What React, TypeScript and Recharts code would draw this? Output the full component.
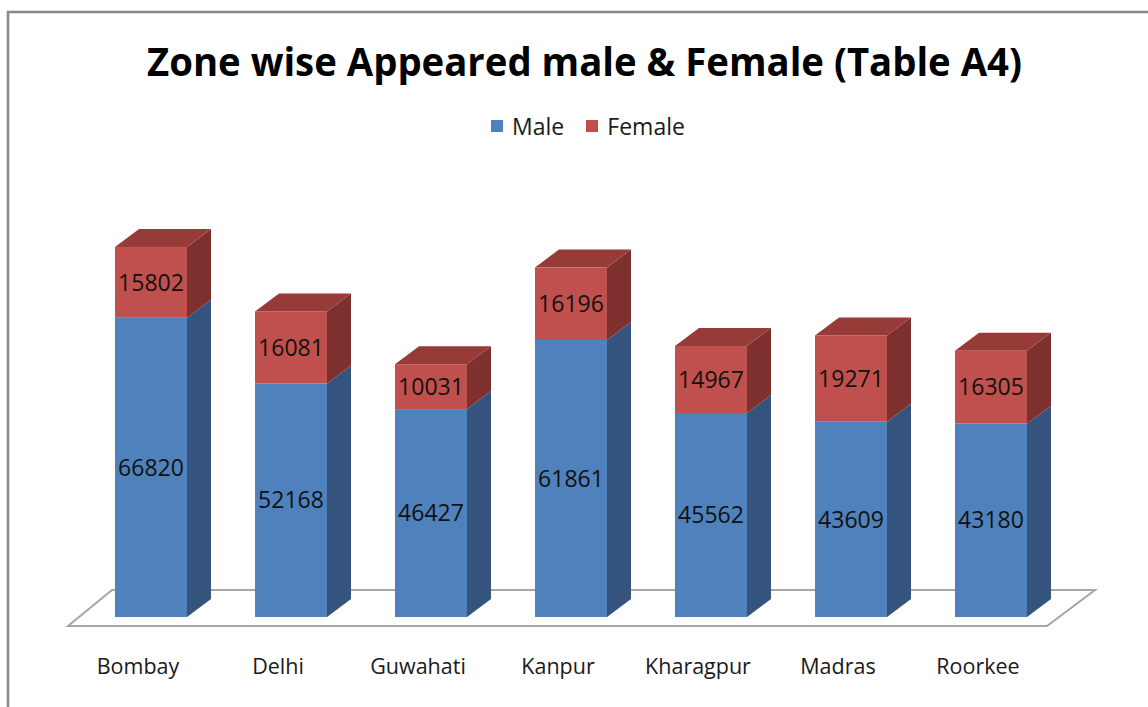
import React from "react"
import { BarChart, Bar, XAxis, YAxis, Legend, LabelList } from "recharts"

const zones = ["Bombay", "Delhi", "Guwahati", "Kanpur", "Kharagpur", "Madras", "Roorkee"]
const male = [66820, 52168, 46427, 61861, 45562, 43609, 43180]
const female = [15802, 16081, 10031, 16196, 14967, 19271, 16305]

const data = zones.map((zone, i) => ({ zone, male: male[i], female: female[i] }))

const W = 1148
const H = 707
const M = { top: 214, right: 87, bottom: 0, left: 81 }
const DEPTH_X = 24
const DEPTH_Y = 18
const FONT = "'Open Sans', sans-serif"

const colors = {
  male: { front: "#4F81BD", side: "#34547E", top: "#3F6897" },
  female: { front: "#C0504D", side: "#7E302E", top: "#963B38" },
}

// 3D box segment: front face, right side and (for the top segment) a lid
const makeBox = (c: { front: string; side: string; top: string }, withTop: boolean) => (props: any) => {
  const { x, y, width, height } = props
  if (height == null || height <= 0) return null
  const r = x + width
  return (
    <g>
      <polygon
        points={`${r},${y} ${r + DEPTH_X},${y - DEPTH_Y} ${r + DEPTH_X},${y + height - DEPTH_Y} ${r},${y + height}`}
        fill={c.side}
      />
      {withTop && (
        <polygon
          points={`${x},${y} ${x + DEPTH_X},${y - DEPTH_Y} ${r + DEPTH_X},${y - DEPTH_Y} ${r},${y}`}
          fill={c.top}
        />
      )}
      <rect x={x} y={y} width={width} height={height} fill={c.front} />
    </g>
  )
}

const ZoneTick = (props: any) => {
  const { x, payload } = props
  return (
    <text x={x - 13} y={674} textAnchor="middle" fontFamily={FONT} fontSize={21.5} fill="#1a1a1a">
      {payload.value}
    </text>
  )
}

const LegendBox = () => (
  <div style={{ display: "flex", justifyContent: "center", gap: 22, fontFamily: FONT, fontSize: 23, color: "#1a1a1a" }}>
    {[
      ["Male", colors.male.front],
      ["Female", colors.female.front],
    ].map(([name, col]) => (
      <div key={name} style={{ display: "flex", alignItems: "center", gap: 9 }}>
        <span style={{ width: 12, height: 12, background: col, display: "inline-block" }} />
        <span>{name}</span>
      </div>
    ))}
  </div>
)

export default function App() {
  const plotBottom = H - 90
  return (
    <div style={{ position: "absolute", left: 0, top: 0, width: W, height: H, background: "#fff" }}>
      <svg width={W} height={H} style={{ position: "absolute", left: 0, top: 0 }}>
        <path d={`M8,${H} L8,12 L${W},12`} fill="none" stroke="#888" strokeWidth={2.5} />
        <polygon
          points={`68,${plotBottom + 9} 1047,${plotBottom + 9} 1095,${plotBottom - 27} 112,${plotBottom - 27}`}
          fill="#fff"
          stroke="#a6a6a6"
          strokeWidth={2}
        />
        <text
          x={147}
          y={76}
          textLength={875}
          lengthAdjust="spacingAndGlyphs"
          fontFamily={FONT}
          fontWeight={700}
          fontSize={39}
          fill="#000"
        >
          Zone wise Appeared male &amp; Female (Table A4)
        </text>
      </svg>
      <div style={{ position: "absolute", left: 0, top: 0 }}>
        <BarChart width={W} height={H} data={data} margin={M} barSize={72}>
          <XAxis dataKey="zone" height={90} axisLine={false} tickLine={false} tick={<ZoneTick />} interval={0} />
          <YAxis hide domain={[0, 90000]} />
          <Legend
            layout="horizontal"
            verticalAlign="middle"
            align="center"
            content={<LegendBox />}
            wrapperStyle={{ top: 110, left: 14, width: W }}
          />
          <Bar dataKey="male" stackId="a" isAnimationActive={false} shape={makeBox(colors.male, false)}>
            <LabelList dataKey="male" position="center" fill="#111" fontFamily={FONT} fontSize={23} />
          </Bar>
          <Bar dataKey="female" stackId="a" isAnimationActive={false} shape={makeBox(colors.female, true)}>
            <LabelList dataKey="female" position="center" fill="#111" fontFamily={FONT} fontSize={23} />
          </Bar>
        </BarChart>
      </div>
    </div>
  )
}
